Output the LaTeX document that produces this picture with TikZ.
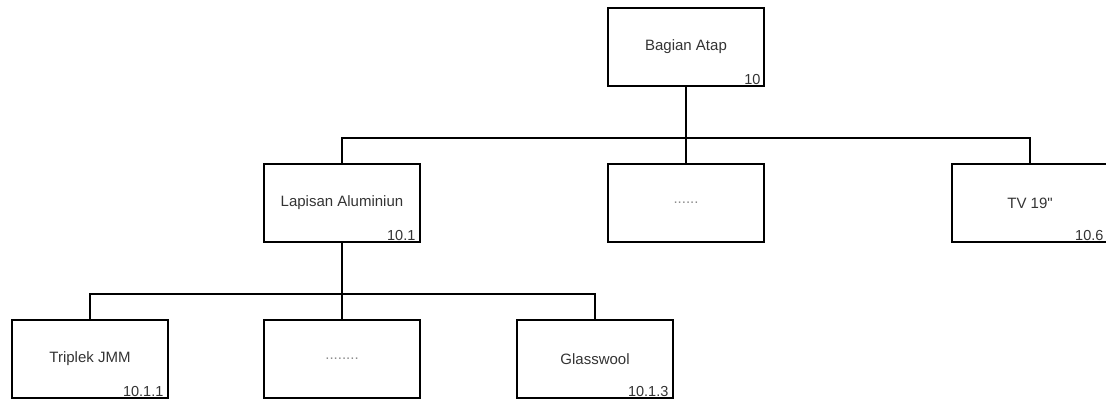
\documentclass[tikz,border=0pt]{standalone}
\usepackage{fontspec}
\setmainfont{Liberation Sans}[Ligatures=TeXOff]
\begin{document}
\begin{tikzpicture}[x=1pt,y=-1pt,
  box/.style={draw=black, line width=1.2pt, minimum width=156pt, minimum height=78pt, inner sep=0pt, text=black!80, font=\fontsize{15}{18}\selectfont},
  num/.style={text=black!80, font=\fontsize{14.5}{17}\selectfont, inner sep=0pt, anchor=base east},
  conn/.style={draw=black, line width=1.2pt}]
\useasboundingbox (0,0) rectangle (1106,399);
% boxes
\node[box] (top) at (686,47) {Bagian Atap};
\node[box] (m1) at (342,203) {Lapisan Aluminiun};
\node[box] (m2) at (686,203) {\textcolor{black!45}{......}};
\node[box] (m3) at (1030,203) {TV 19"};
\node[box] (b1) at (90,359) {Triplek JMM};
\node[box] (b2) at (342,359) {\textcolor{black!45}{........}};
\node[box] (b3) at (595,359) {Glasswool};
% numbers
\node[num] (ntop) at ([xshift=-4pt,yshift=2pt]top.south east) {10};
\node[num] (nm1) at ([xshift=-5pt,yshift=2pt]m1.south east) {10.1};
\node[num] (nm3) at ([xshift=-5pt,yshift=2pt]m3.south east) {10.6};
\node[num] (nb1) at ([xshift=-5pt,yshift=2pt]b1.south east) {10.1.1};
\node[num] (nb3) at ([xshift=-5pt,yshift=2pt]b3.south east) {10.1.3};
% connectors
\coordinate (j1) at (686,138);
\coordinate (j2) at (342,294);
\draw[conn] (top.south) -- (j1);
\draw[conn] (j1) -| (m1.north);
\draw[conn] (j1) -- (m2.north);
\draw[conn] (j1) -| (m3.north);
\draw[conn] (m1.south) -- (j2);
\draw[conn] (j2) -| (b1.north);
\draw[conn] (j2) -- (b2.north);
\draw[conn] (j2) -| (b3.north);
\end{tikzpicture}
\end{document}
